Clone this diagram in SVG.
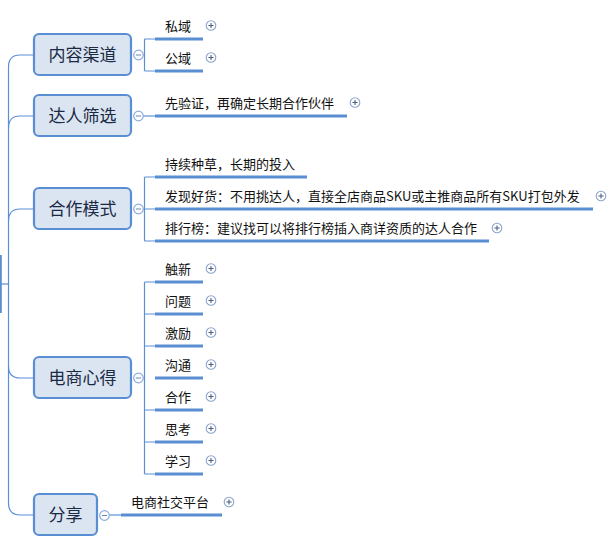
<svg xmlns="http://www.w3.org/2000/svg" width="616" height="551" viewBox="0 0 616 551">
<defs>
<style>
.box{fill:#dbe5f2;stroke:#5a8ed3;stroke-width:2.2}
.nt{font-family:"Noto Sans CJK SC","Microsoft YaHei",sans-serif;font-size:17px;fill:#1a2a44;text-anchor:middle}
.ct{font-family:"Noto Sans CJK SC","Microsoft YaHei",sans-serif;font-size:13px;fill:#111}
.ln{fill:none;stroke:#5b8fd6;stroke-width:1.2}
.ul{fill:none;stroke:#5a8ed3;stroke-width:3}
.col{fill:#fff;stroke:#8aace0;stroke-width:1.2}
.colm{stroke:#6b87b5;stroke-width:1}
.pl{fill:#fff;stroke:#8aa4cc;stroke-width:1.1}
.plm{stroke:#4d5f80;stroke-width:1.1}
</style>
<g id="plus">
<circle class="pl" cx="0" cy="0" r="4.8"/>
<path class="plm" d="M-2.6,0H2.6M0,-2.6V2.6"/>
</g>
<g id="minus">
<circle class="col" cx="0" cy="0" r="4.8"/>
<path class="colm" d="M-2.6,0H2.6"/>
</g>
</defs>
<rect width="616" height="551" fill="#fff"/>
<g id="connectors">
<path d="M0.8,255V313" stroke="#5a8ed3" stroke-width="2" fill="none"/>
<path class="ln" d="M0,284H8"/>
<path class="ln" d="M8.5,67V503"/>
<path class="ln" d="M8.5,67Q8.5,55 20,55H34"/>
<path class="ln" d="M8.5,128Q8.5,116 20,116H34"/>
<path class="ln" d="M8.5,221Q8.5,209 20,209H34"/>
<path class="ln" d="M8.5,366Q8.5,378 20,378H34"/>
<path class="ln" d="M8.5,503Q8.5,515 20,515H34"/>
<path class="ln" d="M143,55H144.5M144.5,39V71M144.5,39H155M144.5,71H155"/>
<path class="ln" d="M143,116H155"/>
<path class="ln" d="M143,209H155M144.5,177V241M144.5,177H155M144.5,241H155"/>
<path class="ln" d="M143,378H144.5M144.5,282V474M144.5,282H155M144.5,314H155M144.5,346H155M144.5,410H155M144.5,442H155M144.5,474H155"/>
<path class="ln" d="M109,515H121"/>
</g>
<g id="n1">
<rect class="box" x="34" y="34" width="97" height="41" rx="5"/>
<text class="nt" x="82.5" y="61">内容渠道</text>
<use href="#minus" x="138.5" y="55"/>
</g>
<g id="n1a"><text class="ct" x="165" y="30.5">私域</text><path class="ul" d="M155,39H203"/><use href="#plus" x="211" y="25.5"/></g>
<g id="n1b"><text class="ct" x="165" y="62.5">公域</text><path class="ul" d="M155,71H203"/><use href="#plus" x="211" y="57.5"/></g>
<g id="n2">
<rect class="box" x="34" y="95" width="97" height="41" rx="5"/>
<text class="nt" x="82.5" y="122">达人筛选</text>
<use href="#minus" x="138.5" y="116"/>
</g>
<g id="n2a"><text class="ct" x="165" y="107.5">先验证，再确定长期合作伙伴</text><path class="ul" d="M155,116H347"/><use href="#plus" x="355" y="102.5"/></g>
<g id="n3">
<rect class="box" x="34" y="188" width="97" height="41" rx="5"/>
<text class="nt" x="82.5" y="215">合作模式</text>
<use href="#minus" x="138.5" y="209"/>
</g>
<g id="n3a"><text class="ct" x="165" y="168.5">持续种草，长期的投入</text><path class="ul" d="M155,177H307"/></g>
<g id="n3b"><text class="ct" x="165" y="200.5">发现好货：不用挑达人，直接全店商品SKU或主推商品所有SKU打包外发</text><path class="ul" d="M155,209H593"/><use href="#plus" x="601" y="196"/></g>
<g id="n3c"><text class="ct" x="165" y="232.5">排行榜：建议找可以将排行榜插入商详资质的达人合作</text><path class="ul" d="M155,241H489"/><use href="#plus" x="497" y="228"/></g>
<g id="n4">
<rect class="box" x="34" y="357" width="97" height="41" rx="5"/>
<text class="nt" x="82.5" y="384">电商心得</text>
<use href="#minus" x="138.5" y="378"/>
</g>
<g id="n4a"><text class="ct" x="165" y="273.5">触新</text><path class="ul" d="M155,282H203"/><use href="#plus" x="211" y="268.5"/></g>
<g id="n4b"><text class="ct" x="165" y="305.5">问题</text><path class="ul" d="M155,314H203"/><use href="#plus" x="211" y="300.5"/></g>
<g id="n4c"><text class="ct" x="165" y="337.5">激励</text><path class="ul" d="M155,346H203"/><use href="#plus" x="211" y="332.5"/></g>
<g id="n4d"><text class="ct" x="165" y="369.5">沟通</text><path class="ul" d="M155,378H203"/><use href="#plus" x="211" y="364.5"/></g>
<g id="n4e"><text class="ct" x="165" y="401.5">合作</text><path class="ul" d="M155,410H203"/><use href="#plus" x="211" y="396.5"/></g>
<g id="n4f"><text class="ct" x="165" y="433.5">思考</text><path class="ul" d="M155,442H203"/><use href="#plus" x="211" y="428.5"/></g>
<g id="n4g"><text class="ct" x="165" y="465.5">学习</text><path class="ul" d="M155,474H203"/><use href="#plus" x="211" y="460.5"/></g>
<g id="n5">
<rect class="box" x="34" y="494" width="63" height="41" rx="5"/>
<text class="nt" x="65.5" y="521">分享</text>
<use href="#minus" x="104.5" y="515.5"/>
</g>
<g id="n5a"><text class="ct" x="131" y="506.5">电商社交平台</text><path class="ul" d="M121,515H222"/><use href="#plus" x="229" y="502"/></g>
</svg>
